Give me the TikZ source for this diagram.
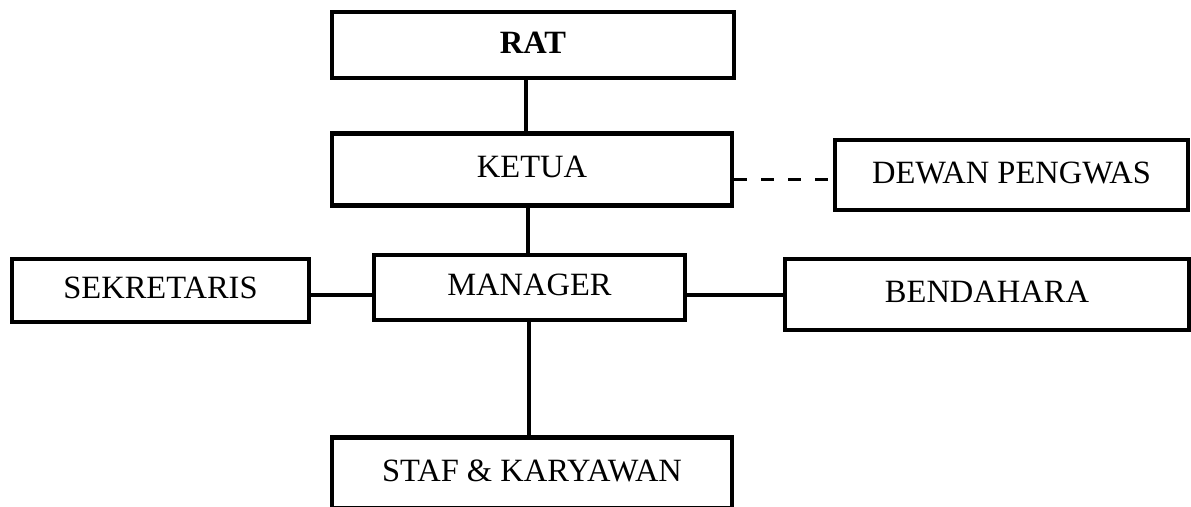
\documentclass[tikz,border=0pt]{standalone}
\usepackage{fontspec}
\setmainfont{Liberation Serif}
\begin{document}
\begin{tikzpicture}[x=1pt,y=-1pt,
  box/.style={draw=black,line width=4.5pt,rectangle,inner sep=0pt,
    font=\fontsize{32.5}{36}\selectfont,text height=21.5pt,text depth=5pt},
  conn/.style={draw=black,line width=3.3pt},
  dconn/.style={conn,dash pattern=on 13pt off 14pt}]
\useasboundingbox (0,0) rectangle (1191,506);
\begin{scope}
\clip (0,0) rectangle (1191,506);
\node[box,minimum width=402pt,minimum height=66pt] (rat) at (533,45) {\textbf{RAT}};
\node[box,minimum width=400pt,minimum height=72pt] (ketua) at (532,169.5) {KETUA};
\node[box,minimum width=353pt,minimum height=70pt] (dewan) at (1011.5,175) {DEWAN PENGWAS};
\node[box,minimum width=297pt,minimum height=63pt] (sek) at (160.5,290.5) {SEKRETARIS};
\node[box,minimum width=311pt,minimum height=65pt] (mgr) at (529.5,287.5) {MANAGER};
\node[box,minimum width=404pt,minimum height=71pt] (bend) at (987,294.5) {BENDAHARA};
\node[box,minimum width=400pt,minimum height=71pt] (staf) at (532,473) {STAF \& KARYAWAN};
\coordinate (v1) at (526,0);
\coordinate (v2) at (528,0);
\coordinate (v3) at (529,0);
\coordinate (hy) at (0,295);
\coordinate (dy) at (0,179.5);
\draw[conn] (rat.south -| v1) -- (ketua.north -| v1);
\draw[conn] (ketua.south -| v2) -- (mgr.north -| v2);
\draw[conn] (mgr.south -| v3) -- (staf.north -| v3);
\draw[conn] (sek.east |- hy) -- (mgr.west |- hy);
\draw[conn] (mgr.east |- hy) -- (bend.west |- hy);
\draw[dconn] (ketua.east |- dy) -- (dewan.west |- dy);
\end{scope}
\end{tikzpicture}
\end{document}
